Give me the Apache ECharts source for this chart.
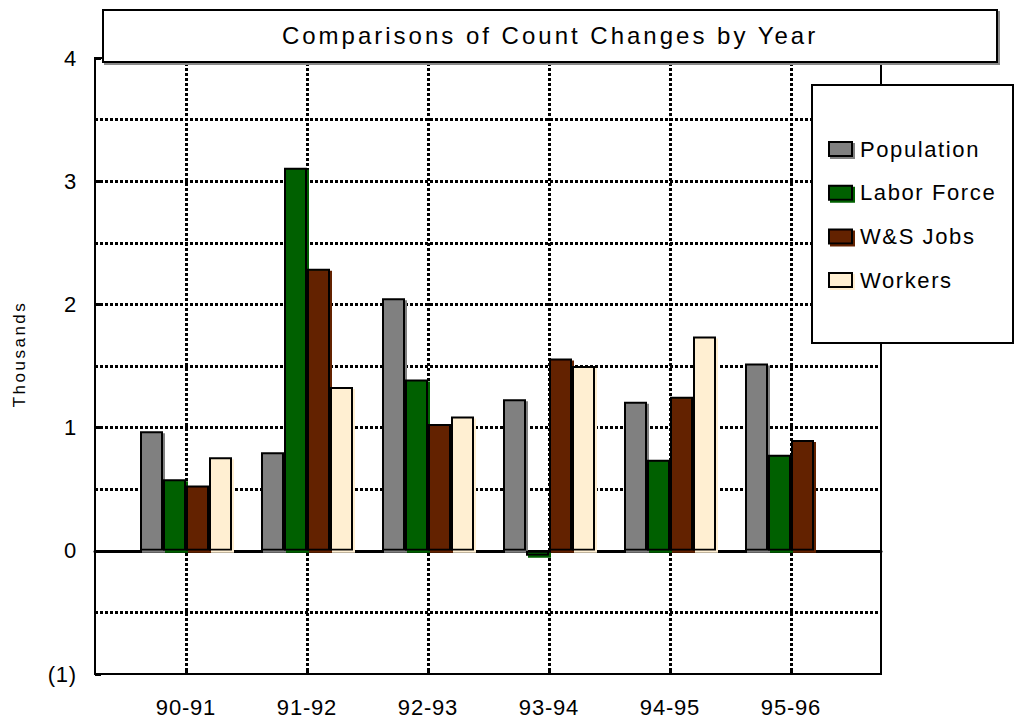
<!DOCTYPE html>
<html>
<head>
<meta charset="utf-8">
<script src="https://cdn.jsdelivr.net/npm/echarts@6/dist/echarts.min.js"></script>
<style>
  html, body { margin: 0; padding: 0; background: #fff; }
  #chart { width: 1015px; height: 719px; }
</style>
</head>
<body>
<div id="chart"></div>
<script>
// Chart texts
const titleText = 'Comparisons of Count Changes by Year';
const axisTitle = 'Thousands';

// Categories and series (values in thousands)
const periods = ['90-91', '91-92', '92-93', '93-94', '94-95', '95-96'];
const seriesNames = ['Population', 'Labor Force', 'W&S Jobs', 'Workers'];
const population = [0.97, 0.80, 2.05, 1.23, 1.21, 1.52];
const laborForce = [0.58, 3.11, 1.39, -0.04, 0.74, 0.78];
const wsJobs = [0.53, 2.29, 1.03, 1.56, 1.25, 0.90];
const workers = [0.76, 1.33, 1.09, 1.50, 1.74, null];

// Value axis range and tick step
const yMin = -1;
const yMax = 4;
const yStep = 1;

const colors = ['#808080', '#006000', '#632200', '#FFEFD2'];
const FONT = '"Liberation Sans", Arial, sans-serif';
const dotted = { color: '#000', width: 3, type: [3, 2] };

const chart = echarts.init(document.getElementById('chart'), null, { renderer: 'svg' });

const values = [population, laborForce, wsJobs, workers];

const option = {
  animation: false,
  backgroundColor: '#fff',
  textStyle: { fontFamily: FONT },
  grid: [
    // outer frame with horizontal grid lines
    { left: 95, top: 58, width: 786, height: 616, show: true, borderColor: '#000', borderWidth: 2, backgroundColor: 'transparent', containLabel: false },
    // category band for the bars
    { left: 186, top: 58, width: 605, height: 616, containLabel: false }
  ],
  xAxis: [
    {
      // solid zero line across the plot
      gridIndex: 0, type: 'value', min: 0, max: 1, z: 1,
      axisLine: { show: true, onZero: true, lineStyle: { color: '#000', width: 3 } },
      axisTick: { show: false }, axisLabel: { show: false }, splitLine: { show: false }
    },
    {
      gridIndex: 1, type: 'category', data: periods, boundaryGap: false, position: 'bottom',
      axisLine: { show: false, onZero: false },
      axisTick: { show: true, inside: true, length: 6, interval: 0, lineStyle: { color: '#000', width: 3 } },
      axisLabel: { margin: 22, fontSize: 22, color: '#000', fontFamily: FONT, interval: 0 },
      splitLine: { show: true, interval: 0, lineStyle: dotted }
    }
  ],
  yAxis: [
    {
      gridIndex: 0, type: 'value', min: yMin, max: yMax, interval: yStep,
      axisLine: { show: true, lineStyle: { color: '#000', width: 2 } },
      axisTick: { show: true, inside: true, length: 6, lineStyle: { color: '#000', width: 3 } },
      axisLabel: {
        margin: 18, fontSize: 22, color: '#000', fontFamily: FONT,
        formatter: v => (v < 0 ? '(' + (-v) + ')' : String(v))
      },
      splitLine: { show: true, showMinLine: false, showMaxLine: false, lineStyle: dotted },
      minorTick: { show: false, splitNumber: 2 },
      minorSplitLine: { show: true, lineStyle: dotted }
    },
    { gridIndex: 1, type: 'value', min: yMin, max: yMax, interval: yStep, show: false }
  ],
  legend: {
    left: 828, top: 138, orient: 'vertical', padding: 0,
    itemWidth: 23, itemHeight: 14, itemGap: 21.7, icon: 'rect',
    selectedMode: false, z: 5,
    data: seriesNames.map((n, i) => ({
      name: n,
      itemStyle: {
        color: colors[i], borderColor: '#000', borderWidth: 2,
        shadowColor: colors[i], shadowOffsetX: 2, shadowOffsetY: 2, shadowBlur: 0
      }
    })),
    textStyle: { fontSize: 22, color: '#000', fontFamily: FONT, padding: [0, 0, 0, 3] }
  },
  graphic: [
    {
      type: 'rect', z: 3, silent: true,
      shape: { x: 103, y: 10, width: 894, height: 52 },
      style: { fill: '#fff', stroke: '#000', lineWidth: 2, shadowColor: '#8a8a8a', shadowOffsetX: 2, shadowOffsetY: 2, shadowBlur: 0 }
    },
    {
      type: 'text', z: 4, silent: true, x: 550, y: 35,
      style: { text: titleText, font: '24px ' + FONT, fill: '#000', align: 'center', verticalAlign: 'middle' }
    },
    {
      type: 'rect', z: 3, silent: true,
      shape: { x: 812, y: 85, width: 201, height: 258 },
      style: { fill: '#fff', stroke: '#000', lineWidth: 2 }
    },
    {
      type: 'text', z: 4, silent: true, x: 19, y: 354, rotation: Math.PI / 2,
      style: { text: axisTitle, font: '17px ' + FONT, fill: '#000', align: 'center', verticalAlign: 'middle' }
    }
  ],
  series: seriesNames.map((n, i) => ({
    name: n,
    type: 'bar',
    xAxisIndex: 1,
    yAxisIndex: 1,
    data: values[i],
    barWidth: 23,
    barGap: '0%',
    clip: false,
    silent: true,
    itemStyle: {
      color: colors[i], borderColor: '#000', borderWidth: 2,
      shadowColor: colors[i], shadowOffsetX: 2, shadowOffsetY: 2, shadowBlur: 0
    }
  }))
};

chart.setOption(option);

// Spaced-out lettering for the SVG texts
const spacing = {};
spacing[titleText] = 3;
spacing[axisTitle] = 2.5;
seriesNames.forEach(n => { spacing[n] = 1.6; });
function spaceText() {
  document.querySelectorAll('#chart svg text').forEach(t => {
    const s = spacing[t.textContent];
    t.style.letterSpacing = (s == null ? 0.8 : s) + 'px';
  });
}
chart.on('finished', spaceText);
spaceText();
</script>
</body>
</html>
